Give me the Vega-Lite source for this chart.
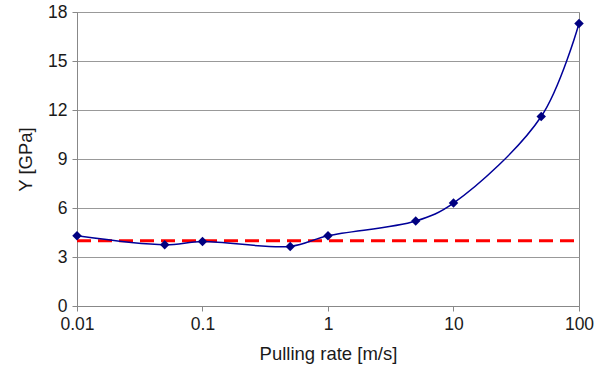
{
  "$schema": "https://vega.github.io/schema/vega-lite/v6.json",
  "width": 502,
  "height": 294,
  "autosize": "none",
  "padding": {"left": 77, "top": 12, "right": 24, "bottom": 66},
  "background": "white",
  "config": {
    "view": {"stroke": "#888888", "strokeWidth": 1},
    "font": "Liberation Sans",
    "axis": {
      "labelFont": "Liberation Sans",
      "titleFont": "Liberation Sans",
      "labelFontSize": 17.5,
      "titleFontSize": 18.5,
      "labelColor": "#1a1a1a",
      "titleColor": "#1a1a1a",
      "titleFontWeight": "normal",
      "domainColor": "#888888",
      "tickColor": "#888888",
      "gridColor": "#999999",
      "gridOpacity": 1,
      "labelFlush": false,
      "labelOverlap": false
    }
  },
  "datasets": {
    "pts": [
      {"rate": 0.01, "Y": 4.3},
      {"rate": 0.05, "Y": 3.75},
      {"rate": 0.1, "Y": 3.95},
      {"rate": 0.5, "Y": 3.65},
      {"rate": 1, "Y": 4.3},
      {"rate": 5, "Y": 5.2},
      {"rate": 10, "Y": 6.3},
      {"rate": 50, "Y": 11.6},
      {"rate": 100, "Y": 17.3}
    ],
    "ref": [
      {"rate": 0.01, "Y": 4},
      {"rate": 100, "Y": 4}
    ]
  },
  "layer": [
    {
      "data": {"name": "ref"},
      "mark": {"type": "line", "color": "#ff0000", "strokeWidth": 3, "strokeDash": [14, 7]},
      "encoding": {
        "x": {"field": "rate", "type": "quantitative"},
        "y": {"field": "Y", "type": "quantitative"}
      }
    },
    {
      "data": {"name": "pts"},
      "mark": {"type": "line", "color": "#000099", "strokeWidth": 1.5, "interpolate": "catmull-rom"},
      "encoding": {
        "x": {
          "field": "rate", "type": "quantitative",
          "scale": {"type": "log", "domain": [0.01, 100], "nice": false},
          "axis": {"title": "Pulling rate [m/s]", "values": [0.01, 0.1, 1, 10, 100], "format": "~g", "grid": false, "tickSize": 5, "labelPadding": 4, "titlePadding": 12}
        },
        "y": {
          "field": "Y", "type": "quantitative",
          "scale": {"domain": [0, 18], "nice": false},
          "axis": {"title": "Y [GPa]", "values": [0, 3, 6, 9, 12, 15, 18], "grid": true, "tickSize": 5, "labelPadding": 5, "titlePadding": 12}
        }
      }
    },
    {
      "data": {"name": "pts"},
      "mark": {"type": "point", "shape": "diamond", "filled": true, "color": "#000080", "size": 90, "opacity": 1},
      "encoding": {
        "x": {"field": "rate", "type": "quantitative"},
        "y": {"field": "Y", "type": "quantitative"}
      }
    }
  ]
}
